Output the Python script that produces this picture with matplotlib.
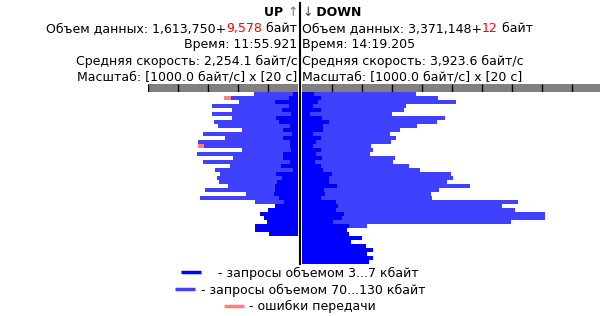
import numpy as np
import matplotlib.pyplot as plt
from matplotlib.lines import Line2D

# average speed per 20 s interval, bytes/s
up_small = [170, 300, 770, 300, 530, 230, 730, 630, 270, 500, 200, 500, 270, 270,
            230, 500, 500, 270, 570, 170, 730, 530, 700, 770, 770, 800, 630, 470,
            770, 1000, 1270, 1130, 1030, 1430, 1430, 970]
up_large = [1300, 1930, 1200, 2570, 1670, 2630, 1470, 2170, 2400, 1370, 2970, 1930, 3070, 2870,
            1630, 2870, 1670, 2900, 1700, 2600, 1870, 2170, 1930, 1570, 2330, 930, 2630, 970,
            0, 0, 0, 0, 0, 0, 0, 0]
up_errors = [0, 230, 0, 0, 0, 0, 0, 0, 0, 0, 0, 0, 0, 200,
             0, 0, 0, 0, 0, 0, 0, 0, 0, 0, 0, 0, 0, 0,
             0, 0, 0, 0, 0, 0, 0, 0]

down_small = [400, 630, 530, 370, 630, 270, 670, 900, 700, 700,
              370, 630, 470, 370, 630, 470, 670, 430, 630, 700,
              1000, 900, 900, 1170, 730, 770, 630, 1130, 1200, 1130,
              1400, 1330, 1030, 1570, 1500, 1570, 2000, 1630, 2130, 2370,
              2170, 2370, 2230]
down_large = [3400, 3900, 4600, 3100, 2770, 2730, 4100, 3600, 3130, 2570,
              2570, 2500, 2500, 1930, 1730, 1800, 2430, 2600, 2930, 3230,
              3970, 4130, 3930, 4430, 3830, 3530, 3700, 6070, 5470, 5970,
              6700, 6770, 5930, 600, 0, 0, 0, 0, 0, 0,
              0, 0, 0]

scale_step = 1000  # bytes/s per scale division

DARK = "#0000ff"
LIGHT = "#4040ff"
ERR = "#ff8080"
FS = 9

W, H = 600, 316
fig = plt.figure(figsize=(6, 3.16), dpi=100)


def box(x0, y0, x1, y1):
    # pixel rectangle -> figure fraction
    return [x0 / W, 1 - y1 / H, (x1 - x0) / W, (y1 - y0) / H]


def clean(ax):
    ax.set_xticks([])
    ax.set_yticks([])
    for s in ax.spines.values():
        s.set_visible(False)


bg = fig.add_axes([0, 0, 1, 1])
bg.axis("off")

n_rows = len(down_small)
up_max = 150 / 30 * scale_step
down_max = 298 / 30 * scale_step

# --- bars ---
ax_up = fig.add_axes(box(148, 92, 298, 264))
rows = np.arange(len(up_small))
ax_up.barh(rows, up_small, height=1, align="edge", color=DARK, lw=0)
ax_up.barh(rows, up_large, left=up_small, height=1, align="edge", color=LIGHT, lw=0)
ax_up.barh(rows, up_errors, left=np.add(up_small, up_large), height=1, align="edge", color=ERR, lw=0)
ax_up.set_xlim(up_max, 0)
ax_up.set_ylim(n_rows, 0)
ax_up.axis("off")

ax_dn = fig.add_axes(box(302, 92, 600, 264))
rows = np.arange(n_rows)
ax_dn.barh(rows, down_small, height=1, align="edge", color=DARK, lw=0)
ax_dn.barh(rows, down_large, left=down_small, height=1, align="edge", color=LIGHT, lw=0)
ax_dn.set_xlim(0, down_max)
ax_dn.set_ylim(n_rows, 0)
ax_dn.axis("off")

# --- scale rulers ---
for rect, lim in [((148, 84, 298, 92), (up_max, 0)), ((302, 84, 600, 92), (0, down_max))]:
    sc = fig.add_axes(box(*rect))
    sc.set_facecolor("#808080")
    sc.set_xlim(*lim)
    sc.set_ylim(0, 1)
    ticks = np.arange(scale_step, max(lim) + 1, scale_step)
    sc.vlines(ticks, 0, 1, color="black", lw=1)
    clean(sc)

# centre divider
fig.add_artist(Line2D([300 / W, 300 / W], [1 - 3 / H, 1 - 264 / H], color="black", lw=1.5))


# --- header text ---
def run_left(x, y, parts):
    # right-aligned run of coloured pieces, built from the right end
    prev = None
    for text, color, weight in reversed(parts):
        if prev is None:
            prev = bg.text(x, y, text, ha="right", va="center", color=color,
                           fontsize=FS, fontweight=weight, transform=fig.transFigure)
        else:
            prev = bg.annotate(text, xy=(0, 0.5), xycoords=prev, ha="right", va="center",
                               color=color, fontsize=FS, fontweight=weight)


def run_right(x, y, parts):
    prev = None
    for text, color, weight in parts:
        if prev is None:
            prev = bg.text(x, y, text, ha="left", va="center", color=color,
                           fontsize=FS, fontweight=weight, transform=fig.transFigure)
        else:
            prev = bg.annotate(text, xy=(1, 0.5), xycoords=prev, ha="left", va="center",
                               color=color, fontsize=FS, fontweight=weight)


xl, xr = 297.5 / W, 302 / W
ys = [1 - v / H for v in (12.5, 28.5, 44.5, 61, 77)]

run_left(xl, ys[0], [("UP ", "black", "bold"), ("↑", "#6a6ae0", "normal")])
run_left(xl, ys[1], [("Объем данных: 1,613,750+", "black", "normal"),
                     ("9,578", "red", "normal"), (" байт", "black", "normal")])
run_left(xl, ys[2], [("Время: 11:55.921", "black", "normal")])
run_left(xl, ys[3], [("Средняя скорость: 2,254.1 байт/с", "black", "normal")])
run_left(xl, ys[4], [("Масштаб: [1000.0 байт/с] x [20 с]", "black", "normal")])

run_right(xr, ys[0], [("↓", "#404060", "normal"), (" DOWN", "black", "bold")])
run_right(xr, ys[1], [("Объем данных: 3,371,148+", "black", "normal"),
                      ("12", "red", "normal"), (" байт", "black", "normal")])
run_right(xr, ys[2], [("Время: 14:19.205", "black", "normal")])
run_right(xr, ys[3], [("Средняя скорость: 3,923.6 байт/с", "black", "normal")])
run_right(xr, ys[4], [("Масштаб: [1000.0 байт/с] x [20 с]", "black", "normal")])

# --- legend, one centred line per entry ---
legend_items = [(DARK, "- запросы объемом 3...7 кбайт", 273, 1.35),
                (LIGHT, "- запросы объемом 70...130 кбайт", 290, 0.45),
                (ERR, "- ошибки передачи", 306.5, 0.45)]
for color, label, ypx, pad in legend_items:
    fig.legend(handles=[Line2D([], [], color=color, lw=2.5, solid_capstyle="butt")],
               labels=[label], loc="center", bbox_to_anchor=(0.5, 1 - ypx / H),
               frameon=False, fontsize=FS, handlelength=1.6, handletextpad=pad,
               borderpad=0, borderaxespad=0)

fig.savefig("out.png", dpi=100)
